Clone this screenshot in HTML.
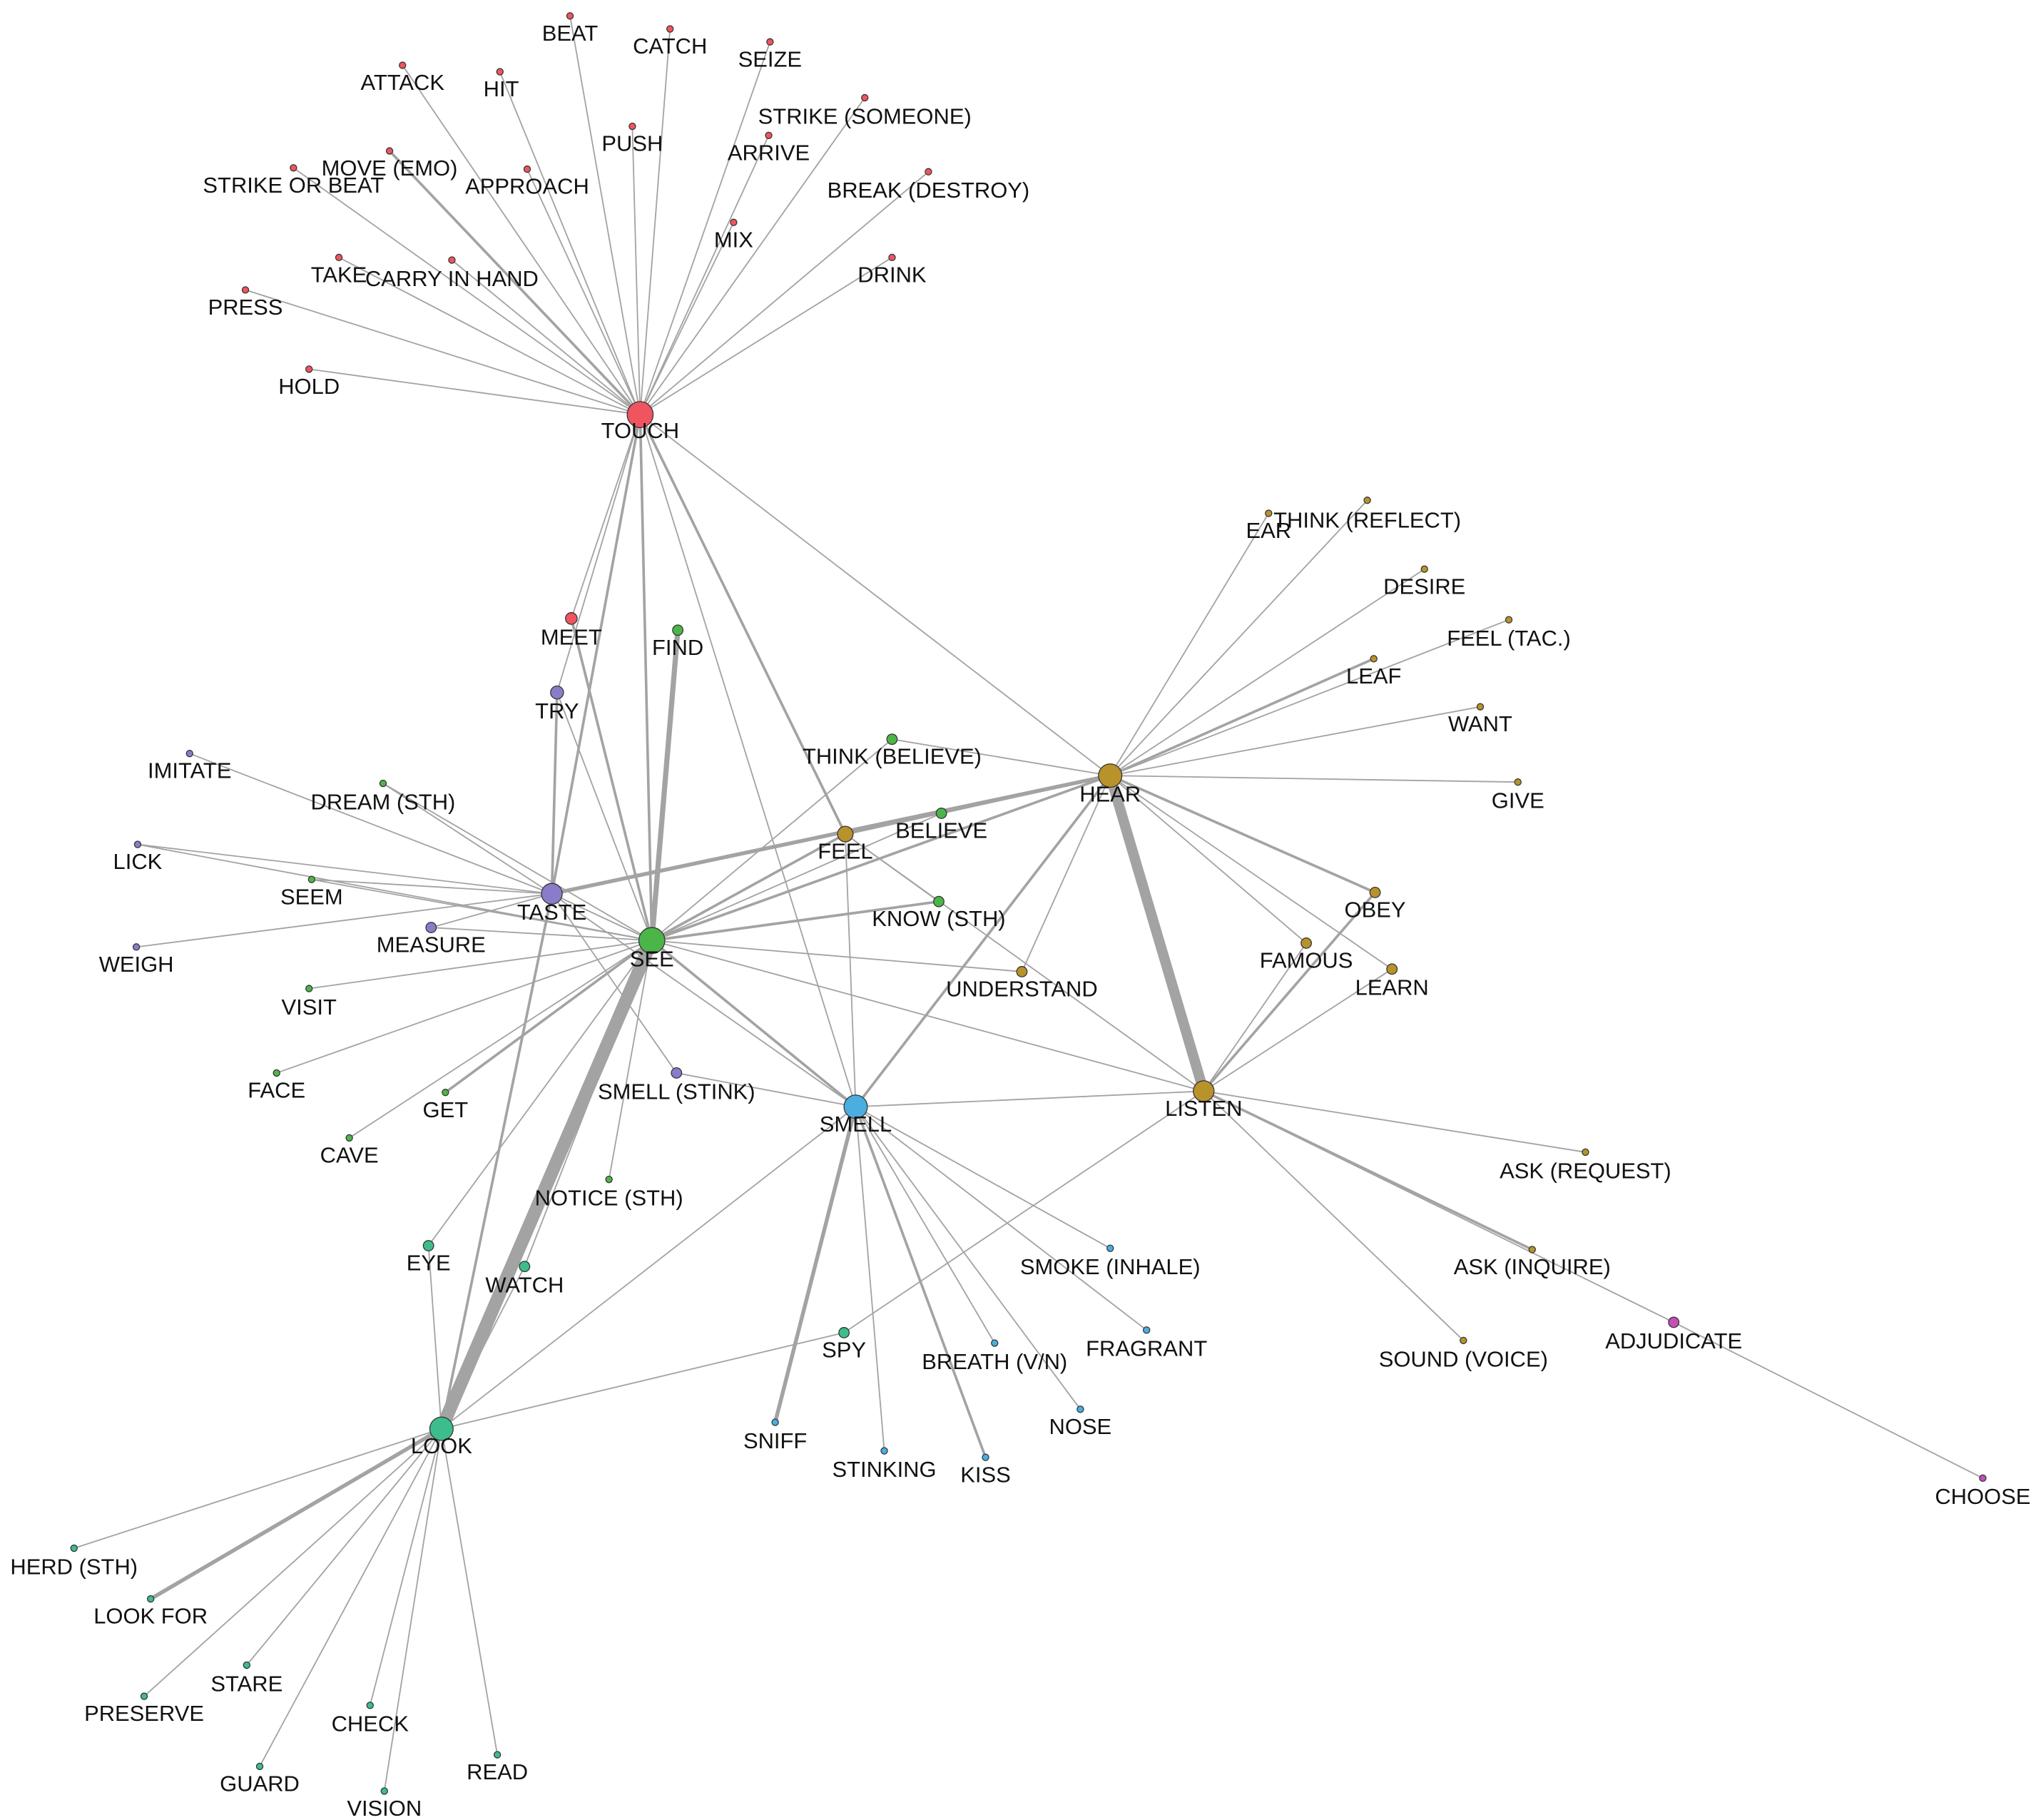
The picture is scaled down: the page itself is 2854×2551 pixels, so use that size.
<!DOCTYPE html>
<html><head><meta charset="utf-8"><style>
html,body{margin:0;padding:0;background:#fff;}
svg{display:block;}
text{font-family:"Liberation Sans",sans-serif;font-size:17px;fill:#111;text-anchor:middle;}
</style></head><body>
<svg width="2854" height="2551" viewBox="0 0 1568 1401" xmlns="http://www.w3.org/2000/svg">
<g stroke="#a3a3a3" stroke-linecap="round" fill="none">
<!-- TOUCH -->
<g stroke-width="1">
<line x1="493" y1="319" x2="439" y2="12"/><line x1="493" y1="319" x2="516" y2="22"/><line x1="493" y1="319" x2="593" y2="32"/>
<line x1="493" y1="319" x2="310" y2="50"/><line x1="493" y1="319" x2="385" y2="55"/><line x1="493" y1="319" x2="487" y2="97"/>
<line x1="493" y1="319" x2="666" y2="75"/><line x1="493" y1="319" x2="592" y2="104"/><line x1="493" y1="319" x2="300" y2="116" stroke-width="2"/>
<line x1="493" y1="319" x2="406" y2="130"/><line x1="493" y1="319" x2="226" y2="129"/><line x1="493" y1="319" x2="715" y2="132"/>
<line x1="493" y1="319" x2="565" y2="171"/><line x1="493" y1="319" x2="687" y2="198"/><line x1="493" y1="319" x2="261" y2="198"/>
<line x1="493" y1="319" x2="348" y2="200"/><line x1="493" y1="319" x2="189" y2="223"/><line x1="493" y1="319" x2="238" y2="284"/>
<line x1="493" y1="319" x2="440" y2="476"/><line x1="493" y1="319" x2="429" y2="533"/>
<line x1="493" y1="319" x2="855" y2="597"/><line x1="493" y1="319" x2="659" y2="852"/>
</g>
<line x1="493" y1="319" x2="425" y2="688" stroke-width="2"/>
<line x1="493" y1="319" x2="502" y2="724" stroke-width="2"/>
<line x1="493" y1="319" x2="651" y2="642" stroke-width="2"/>
<!-- SEE -->
<line x1="502" y1="724" x2="522" y2="485" stroke-width="4"/>
<line x1="502" y1="724" x2="440" y2="476" stroke-width="2"/>
<line x1="502" y1="724" x2="855" y2="597" stroke-width="2"/>
<line x1="502" y1="724" x2="651" y2="642" stroke-width="2"/>
<line x1="502" y1="724" x2="723" y2="694" stroke-width="2"/>
<line x1="502" y1="724" x2="659" y2="852" stroke-width="2"/>
<line x1="502" y1="724" x2="340" y2="1100" stroke-width="10"/>
<line x1="502" y1="724" x2="343" y2="841" stroke-width="2"/>
<g stroke-width="1">
<line x1="502" y1="724" x2="725" y2="626"/><line x1="502" y1="724" x2="687" y2="569"/><line x1="502" y1="724" x2="787" y2="748"/>
<line x1="502" y1="724" x2="927" y2="840"/><line x1="502" y1="724" x2="425" y2="688"/><line x1="502" y1="724" x2="295" y2="603"/>
<line x1="502" y1="724" x2="240" y2="677"/><line x1="502" y1="724" x2="238" y2="761"/><line x1="502" y1="724" x2="213" y2="826"/>
<line x1="502" y1="724" x2="269" y2="876"/><line x1="502" y1="724" x2="469" y2="908"/><line x1="502" y1="724" x2="106" y2="650"/>
<line x1="502" y1="724" x2="332" y2="714"/><line x1="502" y1="724" x2="404" y2="975"/><line x1="502" y1="724" x2="330" y2="959"/>
<line x1="502" y1="724" x2="429" y2="533"/>
</g>
<!-- TASTE -->
<line x1="425" y1="688" x2="429" y2="533" stroke-width="2"/>
<line x1="425" y1="688" x2="340" y2="1100" stroke-width="2"/>
<line x1="425" y1="688" x2="855" y2="597" stroke-width="3"/>
<g stroke-width="1">
<line x1="425" y1="688" x2="146" y2="580"/><line x1="425" y1="688" x2="295" y2="603"/><line x1="425" y1="688" x2="106" y2="650"/>
<line x1="425" y1="688" x2="240" y2="677"/><line x1="425" y1="688" x2="105" y2="729"/><line x1="425" y1="688" x2="332" y2="714"/>
<line x1="425" y1="688" x2="521" y2="826"/><line x1="425" y1="688" x2="659" y2="852"/>
</g>
<!-- HEAR -->
<line x1="855" y1="597" x2="927" y2="840" stroke-width="8"/>
<line x1="855" y1="597" x2="1059" y2="687" stroke-width="2"/>
<line x1="855" y1="597" x2="659" y2="852" stroke-width="2"/>
<line x1="855" y1="597" x2="1058" y2="507" stroke-width="2"/>
<g stroke-width="1">
<line x1="855" y1="597" x2="977" y2="395"/><line x1="855" y1="597" x2="1053" y2="385"/><line x1="855" y1="597" x2="1097" y2="438"/>
<line x1="855" y1="597" x2="1162" y2="477"/><line x1="855" y1="597" x2="1140" y2="544"/><line x1="855" y1="597" x2="1169" y2="602"/>
<line x1="855" y1="597" x2="1006" y2="726"/><line x1="855" y1="597" x2="1072" y2="746"/><line x1="855" y1="597" x2="787" y2="748"/>
<line x1="855" y1="597" x2="687" y2="569"/>
</g>
<!-- LISTEN -->
<line x1="927" y1="840" x2="1059" y2="687" stroke-width="2"/>
<line x1="927" y1="840" x2="1180" y2="962" stroke-width="2"/>
<g stroke-width="1">
<line x1="927" y1="840" x2="1006" y2="726"/><line x1="927" y1="840" x2="1072" y2="746"/><line x1="927" y1="840" x2="651" y2="642"/>
<line x1="927" y1="840" x2="659" y2="852"/><line x1="927" y1="840" x2="1221" y2="887"/><line x1="927" y1="840" x2="1127" y2="1032"/>
<line x1="927" y1="840" x2="1289" y2="1018"/><line x1="927" y1="840" x2="650" y2="1026"/><line x1="1289" y1="1018" x2="1527" y2="1138"/>
</g>
<!-- SMELL -->
<line x1="659" y1="852" x2="597" y2="1095" stroke-width="3"/>
<line x1="659" y1="852" x2="759" y2="1122" stroke-width="2"/>
<g stroke-width="1">
<line x1="659" y1="852" x2="855" y2="961"/><line x1="659" y1="852" x2="883" y2="1024"/><line x1="659" y1="852" x2="766" y2="1034"/>
<line x1="659" y1="852" x2="832" y2="1085"/><line x1="659" y1="852" x2="681" y2="1117"/><line x1="659" y1="852" x2="340" y2="1100"/>
<line x1="659" y1="852" x2="521" y2="826"/><line x1="659" y1="852" x2="651" y2="642"/>
</g>
<line x1="651" y1="642" x2="855" y2="597" stroke-width="2"/>
<line x1="651" y1="642" x2="723" y2="694" stroke-width="1"/>
<!-- LOOK -->
<line x1="340" y1="1100" x2="116" y2="1231" stroke-width="3"/>
<g stroke-width="1">
<line x1="340" y1="1100" x2="57" y2="1192"/><line x1="340" y1="1100" x2="190" y2="1282"/><line x1="340" y1="1100" x2="111" y2="1306"/>
<line x1="340" y1="1100" x2="285" y2="1313"/><line x1="340" y1="1100" x2="200" y2="1360"/><line x1="340" y1="1100" x2="383" y2="1351"/>
<line x1="340" y1="1100" x2="296" y2="1379"/><line x1="340" y1="1100" x2="650" y2="1026"/><line x1="340" y1="1100" x2="330" y2="959"/>
<line x1="340" y1="1100" x2="404" y2="975"/>
</g>
</g>
<g stroke="#333" stroke-width="0.7">
<g fill="#f0555f">
<circle cx="493" cy="319" r="10"/>
<circle cx="439" cy="12" r="2.5"/><circle cx="516" cy="22" r="2.5"/><circle cx="593" cy="32" r="2.5"/><circle cx="310" cy="50" r="2.5"/>
<circle cx="385" cy="55" r="2.5"/><circle cx="487" cy="97" r="2.5"/><circle cx="666" cy="75" r="2.5"/><circle cx="592" cy="104" r="2.5"/>
<circle cx="300" cy="116" r="2.5"/><circle cx="406" cy="130" r="2.5"/><circle cx="226" cy="129" r="2.5"/><circle cx="715" cy="132" r="2.5"/>
<circle cx="565" cy="171" r="2.5"/><circle cx="687" cy="198" r="2.5"/><circle cx="261" cy="198" r="2.5"/><circle cx="348" cy="200" r="2.5"/>
<circle cx="189" cy="223" r="2.5"/><circle cx="238" cy="284" r="2.5"/><circle cx="440" cy="476" r="4.5"/>
</g>
<g fill="#4cb548">
<circle cx="502" cy="724" r="10"/>
<circle cx="522" cy="485" r="4"/><circle cx="687" cy="569" r="4"/><circle cx="725" cy="626" r="4"/><circle cx="723" cy="694" r="4"/>
<circle cx="295" cy="603" r="2.5"/><circle cx="240" cy="677" r="2.5"/><circle cx="238" cy="761" r="2.5"/><circle cx="213" cy="826" r="2.5"/>
<circle cx="343" cy="841" r="2.5"/><circle cx="269" cy="876" r="2.5"/><circle cx="469" cy="908" r="2.5"/>
</g>
<g fill="#8a7cc9">
<circle cx="425" cy="688" r="8"/>
<circle cx="146" cy="580" r="2.5"/><circle cx="106" cy="650" r="2.5"/><circle cx="105" cy="729" r="2.5"/><circle cx="332" cy="714" r="4"/>
<circle cx="429" cy="533" r="5"/><circle cx="521" cy="826" r="4"/>
</g>
<g fill="#b8922a">
<circle cx="855" cy="597" r="9"/><circle cx="927" cy="840" r="8"/><circle cx="651" cy="642" r="6"/>
<circle cx="977" cy="395" r="2.5"/><circle cx="1053" cy="385" r="2.5"/><circle cx="1097" cy="438" r="2.5"/><circle cx="1162" cy="477" r="2.5"/>
<circle cx="1058" cy="507" r="2.5"/><circle cx="1140" cy="544" r="2.5"/><circle cx="1169" cy="602" r="2.5"/><circle cx="1059" cy="687" r="4"/>
<circle cx="1006" cy="726" r="4"/><circle cx="1072" cy="746" r="4"/><circle cx="787" cy="748" r="4"/><circle cx="1221" cy="887" r="2.5"/>
<circle cx="1180" cy="962" r="2.5"/><circle cx="1127" cy="1032" r="2.5"/>
</g>
<g fill="#c54fb5">
<circle cx="1289" cy="1018" r="4"/><circle cx="1527" cy="1138" r="2.5"/>
</g>
<g fill="#4aaee0">
<circle cx="659" cy="852" r="9"/>
<circle cx="855" cy="961" r="2.5"/><circle cx="883" cy="1024" r="2.5"/><circle cx="766" cy="1034" r="2.5"/><circle cx="832" cy="1085" r="2.5"/>
<circle cx="597" cy="1095" r="2.5"/><circle cx="681" cy="1117" r="2.5"/><circle cx="759" cy="1122" r="2.5"/>
</g>
<g fill="#3dbd8b">
<circle cx="340" cy="1100" r="9"/>
<circle cx="330" cy="959" r="4"/><circle cx="404" cy="975" r="4"/><circle cx="650" cy="1026" r="4"/>
<circle cx="57" cy="1192" r="2.5"/><circle cx="116" cy="1231" r="2.5"/><circle cx="190" cy="1282" r="2.5"/><circle cx="111" cy="1306" r="2.5"/>
<circle cx="285" cy="1313" r="2.5"/><circle cx="200" cy="1360" r="2.5"/><circle cx="383" cy="1351" r="2.5"/><circle cx="296" cy="1379" r="2.5"/>
</g>
</g>
<g>
<text x="493" y="337">TOUCH</text>
<text x="439" y="31">BEAT</text><text x="516" y="41">CATCH</text><text x="593" y="51">SEIZE</text><text x="310" y="69">ATTACK</text>
<text x="386" y="74">HIT</text><text x="487" y="116">PUSH</text><text x="666" y="95">STRIKE (SOMEONE)</text><text x="592" y="123">ARRIVE</text>
<text x="300" y="135">MOVE (EMO)</text><text x="406" y="149">APPROACH</text><text x="226" y="148">STRIKE OR BEAT</text><text x="715" y="152">BREAK (DESTROY)</text>
<text x="565" y="190">MIX</text><text x="687" y="217">DRINK</text><text x="261" y="217">TAKE</text><text x="348" y="220">CARRY IN HAND</text>
<text x="189" y="242">PRESS</text><text x="238" y="303">HOLD</text><text x="440" y="496">MEET</text>
<text x="502" y="744">SEE</text><text x="522" y="504">FIND</text><text x="687" y="588">THINK (BELIEVE)</text><text x="725" y="645">BELIEVE</text>
<text x="723" y="713">KNOW (STH)</text><text x="295" y="623">DREAM (STH)</text><text x="240" y="696">SEEM</text><text x="238" y="781">VISIT</text>
<text x="213" y="845">FACE</text><text x="343" y="860">GET</text><text x="269" y="895">CAVE</text><text x="469" y="928">NOTICE (STH)</text>
<text x="425" y="708">TASTE</text><text x="146" y="599">IMITATE</text><text x="106" y="669">LICK</text><text x="105" y="748">WEIGH</text>
<text x="332" y="733">MEASURE</text><text x="429" y="553">TRY</text><text x="521" y="846">SMELL (STINK)</text>
<text x="855" y="617">HEAR</text><text x="927" y="859">LISTEN</text><text x="651" y="661">FEEL</text>
<text x="977" y="414">EAR</text><text x="1053" y="406">THINK (REFLECT)</text><text x="1097" y="457">DESIRE</text><text x="1162" y="497">FEEL (TAC.)</text>
<text x="1058" y="526">LEAF</text><text x="1140" y="563">WANT</text><text x="1169" y="622">GIVE</text><text x="1059" y="706">OBEY</text>
<text x="1006" y="745">FAMOUS</text><text x="1072" y="766">LEARN</text><text x="787" y="767">UNDERSTAND</text><text x="1221" y="907">ASK (REQUEST)</text>
<text x="1180" y="981">ASK (INQUIRE)</text><text x="1127" y="1052">SOUND (VOICE)</text>
<text x="1289" y="1038">ADJUDICATE</text><text x="1527" y="1158">CHOOSE</text>
<text x="659" y="871">SMELL</text><text x="855" y="981">SMOKE (INHALE)</text><text x="883" y="1044">FRAGRANT</text><text x="766" y="1054">BREATH (V/N)</text>
<text x="832" y="1104">NOSE</text><text x="597" y="1115">SNIFF</text><text x="681" y="1137">STINKING</text><text x="759" y="1141">KISS</text>
<text x="340" y="1119">LOOK</text><text x="330" y="978">EYE</text><text x="404" y="995">WATCH</text><text x="650" y="1045">SPY</text>
<text x="57" y="1212">HERD (STH)</text><text x="116" y="1250">LOOK FOR</text><text x="190" y="1302">STARE</text><text x="111" y="1325">PRESERVE</text>
<text x="285" y="1333">CHECK</text><text x="200" y="1379">GUARD</text><text x="383" y="1370">READ</text><text x="296" y="1398">VISION</text>
</g>
</svg>
</body></html>
